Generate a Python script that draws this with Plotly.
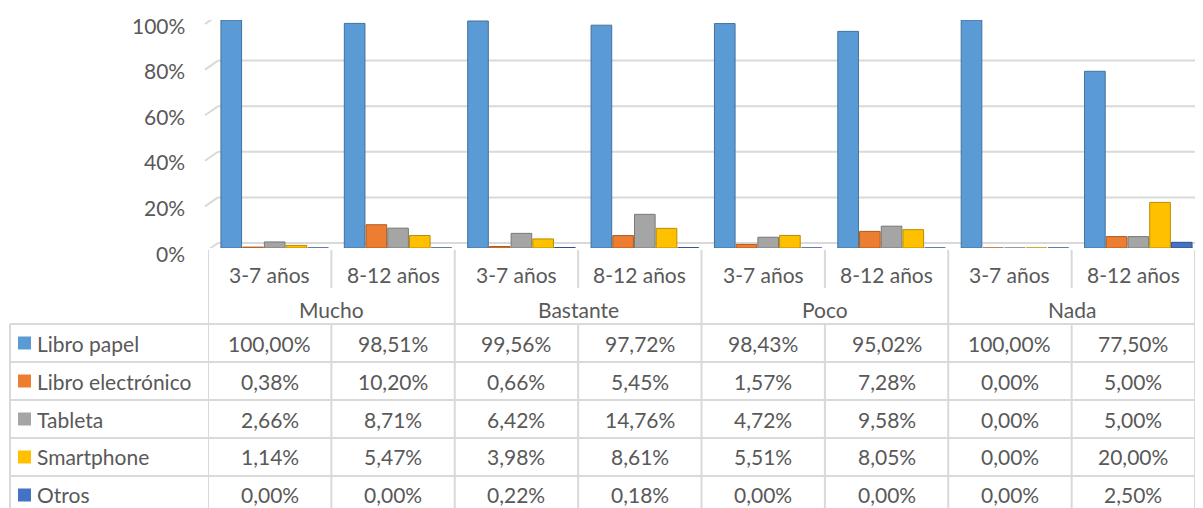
import plotly.graph_objects as go

# ---------------- data ----------------
groups = ["Mucho", "Bastante", "Poco", "Nada"]
ages = ["3-7 años", "8-12 años"]
series_names = ["Libro papel", "Libro electrónico", "Tableta", "Smartphone", "Otros"]
series_colors = ["#5B9BD5", "#ED7D31", "#A5A5A5", "#FFC000", "#4472C4"]
edge_colors = ["#41719C", "#AE5A21", "#787878", "#BC8C00", "#2F528F"]

libro_papel = [100.00, 98.51, 99.56, 97.72, 98.43, 95.02, 100.00, 77.50]
libro_electronico = [0.38, 10.20, 0.66, 5.45, 1.57, 7.28, 0.00, 5.00]
tableta = [2.66, 8.71, 6.42, 14.76, 4.72, 9.58, 0.00, 5.00]
smartphone = [1.14, 5.47, 3.98, 8.61, 5.51, 8.05, 0.00, 20.00]
otros = [0.00, 0.00, 0.22, 0.18, 0.00, 0.00, 0.00, 2.50]
series_values = [libro_papel, libro_electronico, tableta, smartphone, otros]

y_ticks = [0, 20, 40, 60, 80, 100]

# ---------------- layout geometry (pixels) ----------------
W, H = 1203, 508
PL, PR, PT, PB = 208, 1195, 20, 248
TXT = "#595959"
LINE = "#D9D9D9"
FONT = "Lato"
FS = 21


def px(x):
    return (x - PL) / (PR - PL)


def py(y):
    return (PB - y) / (PB - PT)


n_cols = len(groups) * len(ages)
xs = list(range(n_cols))
shift = 5 / ((PR - PL) / n_cols)  # 3D depth offset of the bars, in category units

fig = go.Figure()
for name, vals, col, ecol in zip(series_names, series_values, series_colors, edge_colors):
    fig.add_trace(go.Bar(
        x=xs, y=[v / 100 for v in vals], name=name,
        marker=dict(color=col, line=dict(color=ecol, width=1)),
        showlegend=False,
    ))

shapes = []
annotations = []

# back-wall gridlines + 3D side ticks
for t in y_ticks:
    v = t / 100
    shapes.append(dict(type="line", xref="paper", yref="y", ysizemode="pixel", yanchor=v,
                       x0=px(218), x1=px(1195), y0=5, y1=5,
                       line=dict(color=LINE, width=2), layer="below"))
    shapes.append(dict(type="line", xref="paper", yref="y", ysizemode="pixel", yanchor=v,
                       x0=px(205), x1=px(218), y0=-4, y1=5,
                       line=dict(color=LINE, width=2), layer="below"))
    annotations.append(dict(text=f"{t}%", xref="paper", yref="y", x=px(187), y=v,
                            yshift=-5, xanchor="right", yanchor="middle", showarrow=False,
                            font=dict(family=FONT, size=FS, color=TXT)))

# category axis labels
for i in range(n_cols):
    annotations.append(dict(text=ages[i % 2], xref="x2", yref="paper", x=i, y=py(274),
                            yanchor="middle", showarrow=False,
                            font=dict(family=FONT, size=FS, color=TXT)))
for g, name in enumerate(groups):
    annotations.append(dict(text=name, xref="x2", yref="paper", x=2 * g + 0.5, y=py(309),
                            yanchor="middle", showarrow=False,
                            font=dict(family=FONT, size=FS, color=TXT)))

# separators in category axis
for g in range(len(groups)):
    xm = 2 * g + 0.5
    shapes.append(dict(type="line", xref="x2", yref="paper", x0=xm, x1=xm, y0=py(250), y1=py(288),
                       line=dict(color=LINE, width=2)))
for g in range(len(groups) + 1):
    xb = 2 * g - 0.5
    shapes.append(dict(type="line", xref="x2", yref="paper", x0=xb, x1=xb, y0=py(250), y1=py(515),
                       line=dict(color=LINE, width=2)))

# data table
row_tops = [324, 362, 400, 438, 476, 514]
for yl in row_tops:
    shapes.append(dict(type="line", xref="paper", yref="paper", x0=px(10), x1=px(1195),
                       y0=py(yl), y1=py(yl), line=dict(color=LINE, width=2)))
shapes.append(dict(type="line", xref="paper", yref="paper", x0=px(10), x1=px(10),
                   y0=py(324), y1=py(515), line=dict(color=LINE, width=2)))
for g in range(len(groups)):
    xm = 2 * g + 0.5
    shapes.append(dict(type="line", xref="x2", yref="paper", x0=xm, x1=xm, y0=py(324), y1=py(515),
                       line=dict(color=LINE, width=2)))

for r, (name, vals, col) in enumerate(zip(series_names, series_values, series_colors)):
    yc = (row_tops[r] + row_tops[r + 1]) / 2
    shapes.append(dict(type="rect", xref="paper", yref="paper", x0=px(18), x1=px(31),
                       y0=py(yc + 6.5), y1=py(yc - 6.5), fillcolor=col, line=dict(width=0)))
    annotations.append(dict(text=name, xref="paper", yref="paper", x=px(35), y=py(yc),
                            xanchor="left", yanchor="middle", showarrow=False,
                            font=dict(family=FONT, size=FS, color=TXT)))
    for i, v in enumerate(vals):
        annotations.append(dict(text=f"{v:.2f}".replace(".", ",") + "%", xref="x2", yref="paper",
                                x=i, y=py(yc), yanchor="middle", showarrow=False,
                                font=dict(family=FONT, size=FS, color=TXT)))

fig.update_layout(
    width=W, height=H,
    margin=dict(l=PL, r=W - PR, t=PT, b=H - PB),
    paper_bgcolor="white", plot_bgcolor="white",
    barmode="group", bargap=0.12, bargroupgap=0.05,
    xaxis=dict(range=[-0.5 - shift, n_cols - 0.5 - shift], showticklabels=False, showgrid=False,
               zeroline=False, showline=False, fixedrange=True),
    xaxis2=dict(range=[-0.5, n_cols - 0.5], overlaying="x", showticklabels=False,
                showgrid=False, zeroline=False, showline=False, fixedrange=True, visible=False),
    yaxis=dict(range=[0, 1.0], showticklabels=False, showgrid=False, zeroline=False,
               showline=False, fixedrange=True),
    shapes=shapes, annotations=annotations,
    font=dict(family=FONT, color=TXT),
)

fig.write_html("out.html", config={"displayModeBar": False},
               post_script="document.body.style.margin='0px';document.body.style.overflow='hidden';")
